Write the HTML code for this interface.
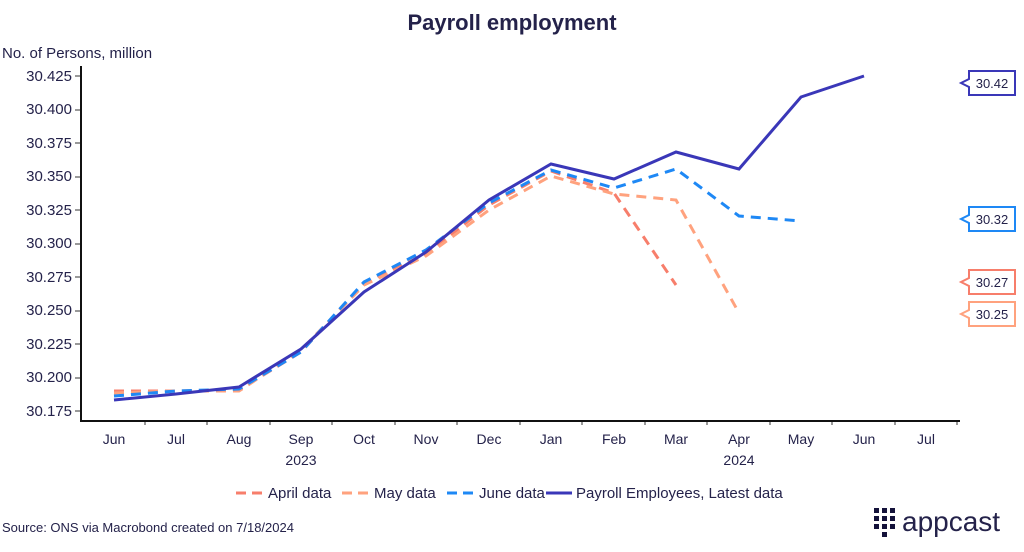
<!DOCTYPE html>
<html><head><meta charset="utf-8"><style>
body{margin:0;background:#fff;}
svg text{font-family:"Liberation Sans",sans-serif;fill:#24224a;}
</style></head><body>
<svg width="1024" height="547" viewBox="0 0 1024 547" xmlns="http://www.w3.org/2000/svg">
<text x="512" y="30" font-size="22" font-weight="bold" text-anchor="middle" fill="#14123a">Payroll employment</text>
<text x="2" y="58" font-size="15" fill="#555">No. of Persons, million</text>
<g font-size="15" text-anchor="end">
<text x="72" y="81">30.425</text><text x="72" y="114">30.400</text><text x="72" y="148">30.375</text>
<text x="72" y="181">30.350</text><text x="72" y="215">30.325</text><text x="72" y="248">30.300</text>
<text x="72" y="282">30.275</text><text x="72" y="315">30.250</text><text x="72" y="349">30.225</text>
<text x="72" y="382">30.200</text><text x="72" y="416">30.175</text>
</g>
<g stroke="#333" stroke-width="1">
<line x1="75" y1="76" x2="80" y2="76"/><line x1="75" y1="110" x2="80" y2="110"/><line x1="75" y1="143" x2="80" y2="143"/>
<line x1="75" y1="177" x2="80" y2="177"/><line x1="75" y1="210" x2="80" y2="210"/><line x1="75" y1="244" x2="80" y2="244"/>
<line x1="75" y1="277" x2="80" y2="277"/><line x1="75" y1="311" x2="80" y2="311"/><line x1="75" y1="344" x2="80" y2="344"/>
<line x1="75" y1="378" x2="80" y2="378"/><line x1="75" y1="411" x2="80" y2="411"/>
<line x1="145" y1="421" x2="145" y2="425"/><line x1="207" y1="421" x2="207" y2="425"/><line x1="270" y1="421" x2="270" y2="425"/>
<line x1="332" y1="421" x2="332" y2="425"/><line x1="395" y1="421" x2="395" y2="425"/><line x1="457" y1="421" x2="457" y2="425"/>
<line x1="520" y1="421" x2="520" y2="425"/><line x1="582" y1="421" x2="582" y2="425"/><line x1="645" y1="421" x2="645" y2="425"/>
<line x1="707" y1="421" x2="707" y2="425"/><line x1="770" y1="421" x2="770" y2="425"/><line x1="832" y1="421" x2="832" y2="425"/>
<line x1="895" y1="421" x2="895" y2="425"/><line x1="957" y1="421" x2="957" y2="425"/>
</g>
<path d="M81 66V421H960" fill="none" stroke="#111" stroke-width="2"/>
<g font-size="14" text-anchor="middle">
<text x="114" y="444">Jun</text><text x="176" y="444">Jul</text><text x="239" y="444">Aug</text><text x="301" y="444">Sep</text>
<text x="364" y="444">Oct</text><text x="426" y="444">Nov</text><text x="489" y="444">Dec</text><text x="551" y="444">Jan</text>
<text x="614" y="444">Feb</text><text x="676" y="444">Mar</text><text x="739" y="444">Apr</text><text x="801" y="444">May</text>
<text x="864" y="444">Jun</text><text x="926" y="444">Jul</text>
<text x="301" y="465">2023</text><text x="739" y="465">2024</text>
</g>
<g fill="none" stroke-width="3">
<polyline stroke="#f77e6b" stroke-dasharray="10,7" points="114,391 176,391 239,390 301,352 364,283 426,254 489,205 551,171 614,193 676,285"/>
<polyline stroke="#ffa27e" stroke-dasharray="10,7" points="114,393 176,391 239,391 301,350 364,285 426,256 489,210 551,176 614,194 676,200 739,313"/>
<polyline stroke="#1e88f5" stroke-dasharray="10,7" points="114,396 176,391 239,389 301,352 364,282 426,250 489,203 551,170 614,188 676,169 739,216 801,221"/>
<polyline stroke="#3a37b8" points="114,400 176,394 239,387 301,349 364,292 426,252 489,200 551,164 614,179 676,152 739,169 801,97 864,76"/>
</g>
<g font-size="13" fill="#fff" stroke-width="2">
<path d="M969,71H1015V95H969V87L961,83L969,79Z" fill="#fff" stroke="#3a37b8"/>
<path d="M969,207H1015V231H969V223L961,219L969,215Z" fill="#fff" stroke="#1e88f5"/>
<path d="M969,270H1015V294H969V286L961,282L969,278Z" fill="#fff" stroke="#f77e6b"/>
<path d="M969,302H1015V326H969V318L961,314L969,310Z" fill="#fff" stroke="#ffa27e"/>
</g>
<g font-size="13" text-anchor="middle">
<text x="992" y="88">30.42</text><text x="992" y="224">30.32</text><text x="992" y="287">30.27</text><text x="992" y="319">30.25</text>
</g>
<g stroke-width="3" stroke-dasharray="10,6">
<line x1="236" y1="493" x2="264" y2="493" stroke="#f77e6b"/>
<line x1="342" y1="493" x2="370" y2="493" stroke="#ffa27e"/>
<line x1="447" y1="493" x2="475" y2="493" stroke="#1e88f5"/>
<line x1="546" y1="493" x2="572" y2="493" stroke="#3a37b8" stroke-dasharray="none"/>
</g>
<g font-size="15">
<text x="268" y="498">April data</text><text x="374" y="498">May data</text><text x="479" y="498">June data</text>
<text x="576" y="498">Payroll Employees, Latest data</text>
</g>
<text x="2" y="532" font-size="13">Source: ONS via Macrobond created on 7/18/2024</text>
<g fill="#14123a">
<rect x="874" y="508" width="5" height="5"/><rect x="882" y="508" width="5" height="5"/><rect x="890" y="508" width="5" height="5"/>
<rect x="874" y="516" width="5" height="5"/><rect x="882" y="516" width="5" height="5"/><rect x="890" y="516" width="5" height="5"/>
<rect x="874" y="524" width="5" height="5"/><rect x="882" y="524" width="5" height="5"/><rect x="890" y="524" width="5" height="5"/>
<rect x="882" y="532" width="5" height="5"/>
</g>
<text x="902" y="531" font-size="28" fill="#14123a">appcast</text>
</svg>
</body></html>
